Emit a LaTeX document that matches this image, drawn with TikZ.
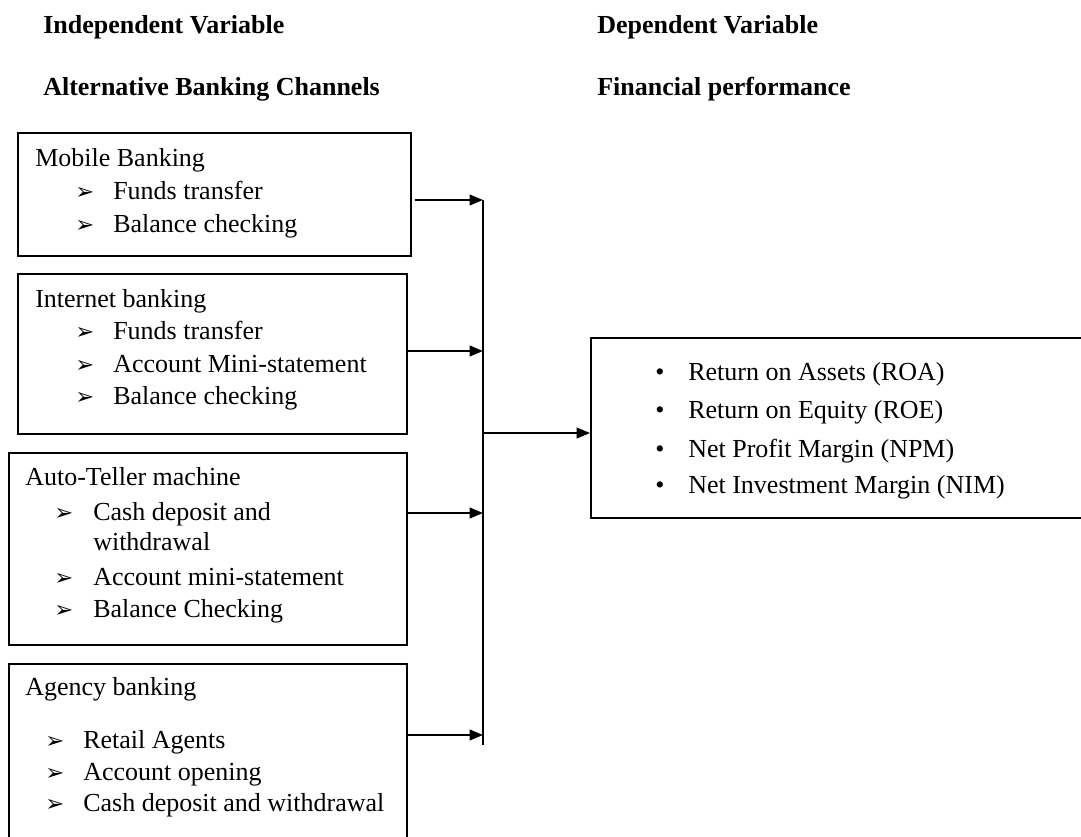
\documentclass[tikz,border=0pt]{standalone}
\usepackage{fontspec}
\setmainfont{Liberation Serif}
\newfontfamily\dvs{DejaVu Sans}
\usetikzlibrary{arrows.meta}
\begin{document}
\begin{tikzpicture}[x=0.75pt,y=-0.75pt,
  box/.style={draw, line width=1.2pt, inner sep=0pt, anchor=north west},
  txt/.style={anchor=base west, inner sep=0pt, font=\fontsize{19.5}{23}\selectfont},
  hdr/.style={anchor=base west, inner sep=0pt, font=\fontsize{19.5}{23}\selectfont\bfseries},
  arh/.style={anchor=base west, inner sep=0pt, font=\dvs\fontsize{17}{19}\selectfont},
  arr/.style={line width=1.2pt, -{Triangle[length=10pt,width=8pt]}},
  bus/.style={line width=1.2pt}]
\useasboundingbox (0,0) rectangle (1081,836);
\clip (0,0) rectangle (1081,836);

% headers
\node[hdr] (h1) at (43,33) {Independent Variable};
\node[hdr] (h2) at (43,95) {Alternative Banking Channels};
\node[hdr] (h3) at (597,33) {Dependent Variable};
\node[hdr] (h4) at (597,95) {Financial performance};

% boxes
\node[box, minimum width=393*0.75pt, minimum height=123*0.75pt] (b1) at (17,132) {};
\node[box, minimum width=389*0.75pt, minimum height=160*0.75pt] (b2) at (17,273) {};
\node[box, minimum width=398*0.75pt, minimum height=192*0.75pt] (b3) at (8,452) {};
\node[box, minimum width=398*0.75pt, minimum height=190*0.75pt] (b4) at (8,663) {};
\node[box, minimum width=500*0.75pt, minimum height=180*0.75pt] (out) at (590,337) {};

% box 1
\node[txt] (t11) at (35,166) {Mobile Banking};
\node[arh] (a12) at (75,199) {➢}; \node[txt] (t12) at (113,199) {Funds transfer};
\node[arh] (a13) at (75,232) {➢}; \node[txt] (t13) at (113,232) {Balance checking};

% box 2
\node[txt] (t21) at (35,307) {Internet banking};
\node[arh] (a22) at (75,339) {➢}; \node[txt] (t22) at (113,339) {Funds transfer};
\node[arh] (a23) at (75,372) {➢}; \node[txt] (t23) at (113,372) {Account Mini-statement};
\node[arh] (a24) at (75,404) {➢}; \node[txt] (t24) at (113,404) {Balance checking};

% box 3
\node[txt] (t31) at (25,485) {Auto-Teller machine};
\node[arh] (a32) at (54,520) {➢}; \node[txt] (t32) at (93,520) {Cash deposit and};
\node[txt] (t33) at (93,550) {withdrawal};
\node[arh] (a34) at (54,585) {➢}; \node[txt] (t34) at (93,585) {Account mini-statement};
\node[arh] (a35) at (54,617) {➢}; \node[txt] (t35) at (93,617) {Balance Checking};

% box 4
\node[txt] (t41) at (25,695) {Agency banking};
\node[arh] (a42) at (45,748) {➢}; \node[txt] (t42) at (83,748) {Retail Agents};
\node[arh] (a43) at (45,780) {➢}; \node[txt] (t43) at (83,780) {Account opening};
\node[arh] (a44) at (45,811) {➢}; \node[txt] (t44) at (83,811) {Cash deposit and withdrawal};

% output box
\node[txt] (d1) at (655,380) {\textbullet}; \node[txt] (o1) at (688,380) {Return on Assets (ROA)};
\node[txt] (d2) at (655,418) {\textbullet}; \node[txt] (o2) at (688,418) {Return on Equity (ROE)};
\node[txt] (d3) at (655,457) {\textbullet}; \node[txt] (o3) at (688,457) {Net Profit Margin (NPM)};
\node[txt] (d4) at (655,493) {\textbullet}; \node[txt] (o4) at (688,493) {Net Investment Margin (NIM)};

% connectors
\coordinate (j1) at (483,200);
\coordinate (j2) at (483,351);
\coordinate (j3) at (483,513);
\coordinate (j4) at (483,735);
\coordinate (jo) at (483,433);
\coordinate (jb) at (483,745);
\draw[bus] (j1) -- (jb);
\draw[arr, shorten <=3*0.75pt] (b1.east |- j1) -- (j1);
\draw[arr] (b2.east |- j2) -- (j2);
\draw[arr] (b3.east |- j3) -- (j3);
\draw[arr] (b4.east |- j4) -- (j4);
\draw[arr] (jo) -- (out.west |- jo);
\end{tikzpicture}
\end{document}
